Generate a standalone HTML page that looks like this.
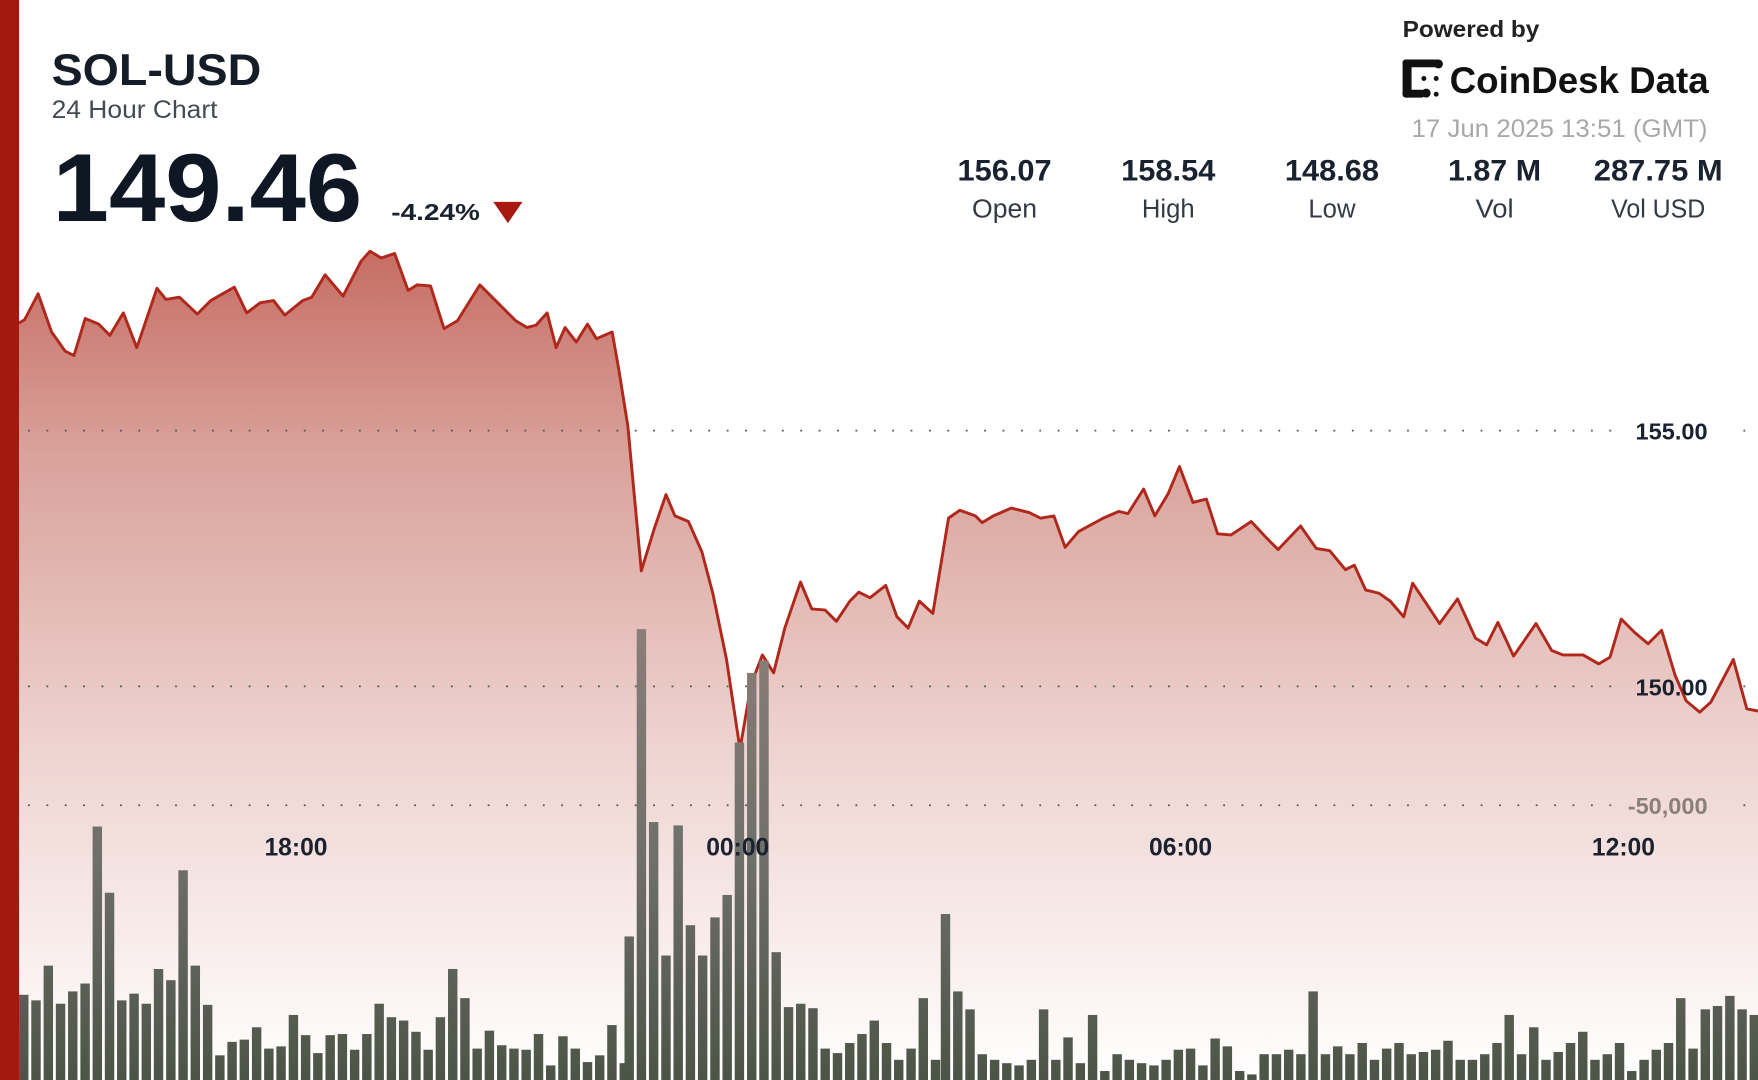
<!DOCTYPE html>
<html><head><meta charset="utf-8"><style>
html,body{margin:0;padding:0;background:#fff;overflow:hidden}
svg{display:block}
text{font-family:"Liberation Sans",sans-serif}
</style></head><body>
<svg width="1758" height="1080" viewBox="0 0 1568 963" preserveAspectRatio="none" xmlns="http://www.w3.org/2000/svg">
<defs>
<linearGradient id="fill" x1="0" y1="220" x2="0" y2="963" gradientUnits="userSpaceOnUse">
<stop offset="0" stop-color="#c66c62"/>
<stop offset="0.25" stop-color="#d9a29b"/>
<stop offset="0.6" stop-color="#eed3d0"/>
<stop offset="1" stop-color="#ffffff"/>
</linearGradient>
<linearGradient id="bar" x1="0" y1="560" x2="0" y2="963" gradientUnits="userSpaceOnUse">
<stop offset="0" stop-color="#8a7e78"/>
<stop offset="0.5" stop-color="#6f706a"/>
<stop offset="1" stop-color="#4c5447"/>
</linearGradient>
</defs>
<rect width="1568" height="963" fill="#fff"/>

<path id="area" fill="url(#fill)" d="M17,288 L22,285 L34,262 L46,296 L58,313 L66,317 L76,284 L88,289 L98,299 L110,279 L122,310 L140,257 L148,267 L160,265 L176,280 L188,268 L209,256 L220,279 L232,270 L244,268 L254,281 L270,268 L278,265 L290,245 L306,264 L322,233 L330,224 L340,230 L352,226 L364,259 L372,254 L384,255 L396,293 L408,286 L428,254 L444,270 L460,286 L470,292 L478,290 L488,279 L496,310 L504,292 L514,305 L524,289 L532,302 L546,296 L552,330 L560,380 L572,509 L584,470 L594,441 L602,460 L614,465 L626,492 L636,530 L648,588 L660,668 L670,610 L680,584 L690,600 L700,560 L714,519 L724,543 L736,544 L746,554 L758,536 L766,528 L776,533 L790,522 L800,550 L810,560 L820,536 L832,547 L846,462 L856,455 L870,460 L876,466 L886,460 L902,453 L918,457 L928,462 L940,460 L950,488 L962,474 L984,462 L998,456 L1006,458 L1020,436 L1030,460 L1042,440 L1052,416 L1064,448 L1076,445 L1086,476 L1098,477 L1116,465 L1130,480 L1140,490 L1160,469 L1174,489 L1186,491 L1200,508 L1208,504 L1218,526 L1230,529 L1240,536 L1252,550 L1260,520 L1272,538 L1284,556 L1300,534 L1316,569 L1326,575 L1336,555 L1350,585 L1370,556 L1384,580 L1394,584 L1412,584 L1426,592 L1436,586 L1446,552 L1458,564 L1470,574 L1482,562 L1494,602 L1504,625 L1516,635 L1526,626 L1546,588 L1558,632 L1568,634 L1568,963 L17,963 Z"/>

<g stroke="#555" stroke-width="1.6" stroke-dasharray="1.6 14.8" fill="none">
<line x1="25" y1="384" x2="1440" y2="384"/>
<line x1="25" y1="612" x2="1440" y2="612"/>
<line x1="25" y1="718" x2="1440" y2="718"/>
<line x1="1555" y1="384" x2="1560" y2="384"/>
<line x1="1555" y1="612" x2="1560" y2="612"/>
<line x1="1555" y1="718" x2="1560" y2="718"/>
</g>

<polyline fill="none" stroke="#b0281c" stroke-width="2.6" stroke-linejoin="round" points="17,288 22,285 34,262 46,296 58,313 66,317 76,284 88,289 98,299 110,279 122,310 140,257 148,267 160,265 176,280 188,268 209,256 220,279 232,270 244,268 254,281 270,268 278,265 290,245 306,264 322,233 330,224 340,230 352,226 364,259 372,254 384,255 396,293 408,286 428,254 444,270 460,286 470,292 478,290 488,279 496,310 504,292 514,305 524,289 532,302 546,296 552,330 560,380 572,509 584,470 594,441 602,460 614,465 626,492 636,530 648,588 660,668 670,610 680,584 690,600 700,560 714,519 724,543 736,544 746,554 758,536 766,528 776,533 790,522 800,550 810,560 820,536 832,547 846,462 856,455 870,460 876,466 886,460 902,453 918,457 928,462 940,460 950,488 962,474 984,462 998,456 1006,458 1020,436 1030,460 1042,440 1052,416 1064,448 1076,445 1086,476 1098,477 1116,465 1130,480 1140,490 1160,469 1174,489 1186,491 1200,508 1208,504 1218,526 1230,529 1240,536 1252,550 1260,520 1272,538 1284,556 1300,534 1316,569 1326,575 1336,555 1350,585 1370,556 1384,580 1394,584 1412,584 1426,592 1436,586 1446,552 1458,564 1470,574 1482,562 1494,602 1504,625 1516,635 1526,626 1546,588 1558,632 1568,634"/>

<g fill="url(#bar)">
<rect x="17.0" y="887" width="8.4" height="76"/><rect x="27.9" y="892" width="8.4" height="71"/><rect x="38.9" y="861" width="8.4" height="102"/><rect x="49.8" y="895" width="8.4" height="68"/><rect x="60.7" y="884" width="8.4" height="79"/><rect x="71.7" y="877" width="8.4" height="86"/><rect x="82.6" y="737" width="8.4" height="226"/><rect x="93.5" y="796" width="8.4" height="167"/><rect x="104.4" y="892" width="8.4" height="71"/><rect x="115.4" y="886" width="8.4" height="77"/>
<rect x="126.3" y="895" width="8.4" height="68"/><rect x="137.2" y="864" width="8.4" height="99"/><rect x="148.2" y="874" width="8.4" height="89"/><rect x="159.1" y="776" width="8.4" height="187"/><rect x="170.0" y="861" width="8.4" height="102"/><rect x="181.0" y="896" width="8.4" height="67"/><rect x="191.9" y="941" width="8.4" height="22"/><rect x="202.8" y="929" width="8.4" height="34"/><rect x="213.7" y="927" width="8.4" height="36"/><rect x="224.7" y="916" width="8.4" height="47"/>
<rect x="235.6" y="935" width="8.4" height="28"/><rect x="246.5" y="933" width="8.4" height="30"/><rect x="257.5" y="905" width="8.4" height="58"/><rect x="268.4" y="923" width="8.4" height="40"/><rect x="279.3" y="939" width="8.4" height="24"/><rect x="290.3" y="923" width="8.4" height="40"/><rect x="301.2" y="922" width="8.4" height="41"/><rect x="312.1" y="936" width="8.4" height="27"/><rect x="323.0" y="922" width="8.4" height="41"/><rect x="334.0" y="895" width="8.4" height="68"/>
<rect x="344.9" y="907" width="8.4" height="56"/><rect x="355.8" y="910" width="8.4" height="53"/><rect x="366.8" y="920" width="8.4" height="43"/><rect x="377.7" y="936" width="8.4" height="27"/><rect x="388.6" y="907" width="8.4" height="56"/><rect x="399.6" y="864" width="8.4" height="99"/><rect x="410.5" y="890" width="8.4" height="73"/><rect x="421.4" y="935" width="8.4" height="28"/><rect x="432.3" y="919" width="8.4" height="44"/><rect x="443.3" y="932" width="8.4" height="31"/>
<rect x="454.2" y="935" width="8.4" height="28"/><rect x="465.1" y="936" width="8.4" height="27"/><rect x="476.1" y="922" width="8.4" height="41"/><rect x="487.0" y="950" width="8.4" height="13"/><rect x="497.9" y="924" width="8.4" height="39"/><rect x="508.9" y="935" width="8.4" height="28"/><rect x="519.8" y="947" width="8.4" height="16"/><rect x="530.7" y="941" width="8.4" height="22"/><rect x="541.6" y="914" width="8.4" height="49"/><rect x="552.6" y="948" width="8.4" height="15"/>
<rect x="557.0" y="835" width="8.4" height="128"/><rect x="567.9" y="561" width="8.4" height="402"/><rect x="578.8" y="733" width="8.4" height="230"/><rect x="589.8" y="852" width="8.4" height="111"/><rect x="600.7" y="736" width="8.4" height="227"/><rect x="611.6" y="825" width="8.4" height="138"/><rect x="622.5" y="852" width="8.4" height="111"/><rect x="633.5" y="818" width="8.4" height="145"/><rect x="644.4" y="798" width="8.4" height="165"/><rect x="655.3" y="662" width="8.4" height="301"/>
<rect x="666.3" y="600" width="8.4" height="363"/><rect x="677.2" y="589" width="8.4" height="374"/><rect x="688.1" y="849" width="8.4" height="114"/><rect x="699.1" y="898" width="8.4" height="65"/><rect x="710.0" y="895" width="8.4" height="68"/><rect x="720.9" y="899" width="8.4" height="64"/><rect x="731.8" y="935" width="8.4" height="28"/><rect x="742.8" y="939" width="8.4" height="24"/><rect x="753.7" y="930" width="8.4" height="33"/><rect x="764.6" y="922" width="8.4" height="41"/>
<rect x="775.6" y="910" width="8.4" height="53"/><rect x="786.5" y="930" width="8.4" height="33"/><rect x="797.4" y="945" width="8.4" height="18"/><rect x="808.4" y="935" width="8.4" height="28"/><rect x="819.3" y="890" width="8.4" height="73"/><rect x="830.2" y="945" width="8.4" height="18"/><rect x="839.1" y="815" width="8.4" height="148"/><rect x="850.1" y="884" width="8.4" height="79"/><rect x="861.0" y="900" width="8.4" height="63"/><rect x="871.9" y="940" width="8.4" height="23"/>
<rect x="882.9" y="945" width="8.4" height="18"/><rect x="893.8" y="948" width="8.4" height="15"/><rect x="904.7" y="950" width="8.4" height="13"/><rect x="915.7" y="945" width="8.4" height="18"/><rect x="926.6" y="900" width="8.4" height="63"/><rect x="937.5" y="945" width="8.4" height="18"/><rect x="948.4" y="925" width="8.4" height="38"/><rect x="959.4" y="948" width="8.4" height="15"/><rect x="970.3" y="905" width="8.4" height="58"/><rect x="981.2" y="955" width="8.4" height="8"/>
<rect x="992.2" y="940" width="8.4" height="23"/><rect x="1003.1" y="945" width="8.4" height="18"/><rect x="1014.0" y="948" width="8.4" height="15"/><rect x="1025.0" y="950" width="8.4" height="13"/><rect x="1035.9" y="945" width="8.4" height="18"/><rect x="1046.8" y="936" width="8.4" height="27"/><rect x="1057.7" y="935" width="8.4" height="28"/><rect x="1068.7" y="950" width="8.4" height="13"/><rect x="1079.6" y="926" width="8.4" height="37"/><rect x="1090.5" y="933" width="8.4" height="30"/>
<rect x="1101.5" y="955" width="8.4" height="8"/><rect x="1112.4" y="958" width="8.4" height="5"/><rect x="1123.3" y="940" width="8.4" height="23"/><rect x="1134.3" y="940" width="8.4" height="23"/><rect x="1145.2" y="936" width="8.4" height="27"/><rect x="1156.1" y="940" width="8.4" height="23"/><rect x="1167.0" y="884" width="8.4" height="79"/><rect x="1178.0" y="940" width="8.4" height="23"/><rect x="1188.9" y="933" width="8.4" height="30"/><rect x="1199.8" y="940" width="8.4" height="23"/>
<rect x="1210.8" y="930" width="8.4" height="33"/><rect x="1221.7" y="945" width="8.4" height="18"/><rect x="1232.6" y="935" width="8.4" height="28"/><rect x="1243.6" y="930" width="8.4" height="33"/><rect x="1254.5" y="940" width="8.4" height="23"/><rect x="1265.4" y="938" width="8.4" height="25"/><rect x="1276.3" y="936" width="8.4" height="27"/><rect x="1287.3" y="928" width="8.4" height="35"/><rect x="1298.2" y="945" width="8.4" height="18"/><rect x="1309.1" y="945" width="8.4" height="18"/>
<rect x="1320.1" y="940" width="8.4" height="23"/><rect x="1331.0" y="930" width="8.4" height="33"/><rect x="1341.9" y="905" width="8.4" height="58"/><rect x="1352.9" y="940" width="8.4" height="23"/><rect x="1363.8" y="916" width="8.4" height="47"/><rect x="1374.7" y="945" width="8.4" height="18"/><rect x="1385.6" y="938" width="8.4" height="25"/><rect x="1396.6" y="930" width="8.4" height="33"/><rect x="1407.5" y="920" width="8.4" height="43"/><rect x="1418.4" y="945" width="8.4" height="18"/>
<rect x="1429.4" y="940" width="8.4" height="23"/><rect x="1440.3" y="930" width="8.4" height="33"/><rect x="1451.2" y="955" width="8.4" height="8"/><rect x="1462.2" y="945" width="8.4" height="18"/><rect x="1473.1" y="936" width="8.4" height="27"/><rect x="1484.0" y="930" width="8.4" height="33"/><rect x="1494.9" y="890" width="8.4" height="73"/><rect x="1505.9" y="935" width="8.4" height="28"/><rect x="1516.8" y="900" width="8.4" height="63"/><rect x="1527.7" y="897" width="8.4" height="66"/>
<rect x="1538.7" y="888" width="8.4" height="75"/><rect x="1549.6" y="900" width="8.4" height="63"/><rect x="1560.5" y="905" width="7.5" height="58"/>
</g>

<g font-weight="bold" font-size="22" fill="#1a2230" text-anchor="middle">
<text x="264" y="763">18:00</text>
<text x="658" y="763">00:00</text>
<text x="1053" y="763">06:00</text>
<text x="1448" y="763">12:00</text>
</g>
<g font-weight="bold" font-size="21" text-anchor="end">
<text x="1523" y="392" fill="#1a2230">155.00</text>
<text x="1523" y="620" fill="#1a2230">150.00</text>
<text x="1523" y="726" fill="#8a7f7a">-50,000</text>
</g>

<rect x="0" y="0" width="17" height="963" fill="#a3190f"/>

<text x="46" y="76" font-size="40" font-weight="bold" fill="#141c28" textLength="187" lengthAdjust="spacingAndGlyphs">SOL-USD</text>
<text x="46" y="105" font-size="22" fill="#444a52" textLength="148" lengthAdjust="spacingAndGlyphs">24 Hour Chart</text>
<text x="47" y="197" font-size="86" font-weight="bold" fill="#0f1724" textLength="276" lengthAdjust="spacingAndGlyphs">149.46</text>
<text x="349" y="196" font-size="21" font-weight="bold" fill="#1a2230" textLength="79" lengthAdjust="spacingAndGlyphs">-4.24%</text>
<polygon points="440,180 466,180 453,199" fill="#a8190f"/>

<text x="1251" y="33" font-size="21" font-weight="bold" fill="#222" textLength="122" lengthAdjust="spacingAndGlyphs">Powered by</text>
<g fill="#111">
<rect x="1251" y="53" width="8" height="34" rx="3"/>
<rect x="1251" y="53" width="34" height="7" rx="3"/>
<rect x="1251" y="80" width="20" height="7" rx="3"/>
<circle cx="1272" cy="83" r="4"/>
<circle cx="1283" cy="57" r="4"/>
<circle cx="1270" cy="70" r="2.2"/>
<circle cx="1281" cy="70" r="2.2"/>
<circle cx="1281" cy="84" r="2.2"/>
</g>
<text x="1293" y="83" font-size="33" font-weight="bold" fill="#111" textLength="231" lengthAdjust="spacingAndGlyphs">CoinDesk Data</text>
<text x="1523" y="122" font-size="22" fill="#a8a8a8" text-anchor="end" textLength="264" lengthAdjust="spacingAndGlyphs">17 Jun 2025 13:51 (GMT)</text>

<g font-size="26" font-weight="bold" fill="#1a2230" text-anchor="middle">
<text x="896" y="161" textLength="84" lengthAdjust="spacingAndGlyphs">156.07</text>
<text x="1042" y="161" textLength="84" lengthAdjust="spacingAndGlyphs">158.54</text>
<text x="1188" y="161" textLength="84" lengthAdjust="spacingAndGlyphs">148.68</text>
<text x="1333" y="161" textLength="83" lengthAdjust="spacingAndGlyphs">1.87 M</text>
<text x="1479" y="161" textLength="115" lengthAdjust="spacingAndGlyphs">287.75 M</text>
</g>
<g font-size="23" fill="#333a44" text-anchor="middle">
<text x="896" y="194" textLength="58" lengthAdjust="spacingAndGlyphs">Open</text>
<text x="1042" y="194" textLength="47" lengthAdjust="spacingAndGlyphs">High</text>
<text x="1188" y="194" textLength="42" lengthAdjust="spacingAndGlyphs">Low</text>
<text x="1333" y="194" textLength="34" lengthAdjust="spacingAndGlyphs">Vol</text>
<text x="1479" y="194" textLength="84" lengthAdjust="spacingAndGlyphs">Vol USD</text>
</g>
</svg>
</body></html>
